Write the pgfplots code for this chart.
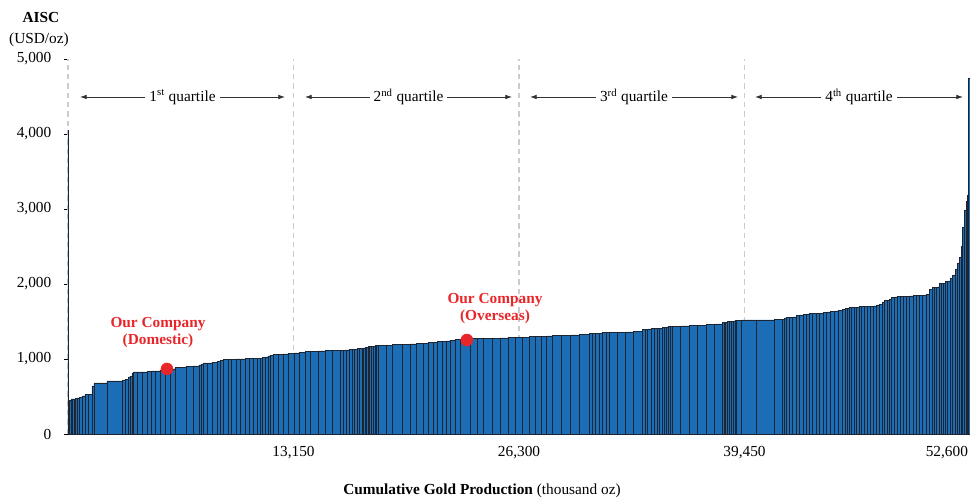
\documentclass[border=0pt]{standalone}
\usepackage{pgfplots}
\pgfplotsset{compat=1.18}
\usepackage{pgfplotstable}
\usepackage{fontspec}
\setmainfont{Liberation Serif}
\usetikzlibrary{arrows.meta}

\definecolor{barblue}{HTML}{1B6DB6}
\definecolor{baredge}{HTML}{1E2530}
\definecolor{dotred}{HTML}{E8262A}
\definecolor{qgray}{HTML}{CCCCCC}
\definecolor{arrgray}{HTML}{333333}

% cost curve: left edge of each mine (cumulative koz) and its AISC
\pgfplotstableread{
x y
0 4050
35 420
87 450
175 467
262 467
350 467
437 470
525 480
670 493
816 507
991 527
1166 533
1399 640
1516 680
2274 707
3149 720
3324 733
3499 760
3615 773
3732 813
3790 827
4023 827
4315 827
4606 833
4839 840
5073 840
5364 853
5656 860
5948 867
6239 893
6880 900
7288 907
7638 920
7755 933
7871 947
8104 947
8396 950
8687 967
8862 980
9037 993
9328 995
9503 997
9795 1000
10028 1000
10320 1003
10553 1005
10786 1007
11020 1010
11195 1013
11311 1020
11486 1027
11661 1040
11778 1053
11953 1060
12244 1065
12536 1067
12827 1075
13177 1080
13468 1085
13818 1100
14109 1105
14576 1107
14984 1110
15392 1115
15859 1118
16034 1119
16208 1120
16383 1125
16558 1130
16704 1132
16850 1135
16995 1140
17141 1145
17229 1147
17316 1150
17404 1158
17491 1165
17579 1168
17666 1170
17783 1172
17899 1175
17987 1177
18074 1180
18541 1185
18890 1188
19473 1195
19940 1200
20290 1203
20698 1210
20989 1215
21281 1225
21514 1228
21805 1237
22039 1240
22272 1250
22563 1255
22855 1265
23438 1268
23846 1270
24195 1275
24720 1278
25186 1280
25653 1283
26061 1290
26469 1293
26935 1295
27284 1297
27634 1305
27926 1307
28276 1315
28800 1318
29325 1320
29850 1323
30433 1340
30608 1342
30782 1345
30986 1346
31190 1348
31395 1352
31599 1355
32065 1358
32531 1360
32998 1363
33523 1395
33669 1398
33814 1400
34018 1405
34222 1410
34368 1412
34514 1413
34660 1420
34805 1425
34922 1427
35038 1428
35155 1432
35272 1437
35738 1440
36263 1450
36729 1453
37254 1463
37720 1467
38187 1485
38275 1490
38362 1493
38479 1498
38595 1503
38712 1505
38828 1507
38916 1511
39003 1515
39295 1520
40170 1520
41219 1522
41686 1533
41803 1540
41919 1555
42094 1557
42269 1560
42473 1575
42678 1587
42882 1593
43086 1600
43261 1605
43436 1610
43640 1612
43845 1613
44049 1620
44253 1627
44486 1633
44719 1640
44952 1650
45186 1665
45331 1672
45477 1680
45594 1685
45710 1690
45856 1692
46002 1693
46148 1697
46294 1700
46468 1703
46643 1705
46818 1706
46993 1707
47168 1720
47343 1733
47488 1760
47634 1780
47809 1787
47926 1800
48043 1820
48218 1827
48393 1835
48568 1836
48743 1838
48918 1839
49092 1840
49296 1845
49500 1850
49675 1852
49850 1853
50055 1855
50259 1933
50434 1955
50550 1958
50667 1960
50842 2005
50958 2010
51075 2013
51191 2030
51308 2040
51454 2080
51600 2120
51745 2200
51891 2280
52008 2360
52095 2500
52183 2760
52299 2987
52378 3100
52457 3187
52516 4747
52600 4747
}\costdata

\begin{document}
\begin{tikzpicture}[x=1pt,y=1pt]
\path[use as bounding box] (-51,-48) rectangle (676.5,325.5);
\begin{axis}[
    at={(0,0)}, anchor=south west,
    scale only axis, width=676.5pt, height=281.25pt,
    xmin=0, xmax=52600, ymin=0, ymax=5000,
    axis x line*=bottom, axis y line*=left,
    y axis line style={draw=none},
    x axis line style={line width=0.8pt, black, -},
    xtick={13150,26300,39450},
    extra x ticks={52600},
    extra x tick style={xticklabel style={anchor=north east, xshift=2pt}},
    ytick={0,1000,...,5000},
    xtick style={draw=none},
    ytick style={draw=black, line width=0.5pt},
    tick align=outside, major tick length=3pt,
    scaled ticks=false,
    /pgf/number format/1000 sep={,},
    /pgf/number format/assume math mode=true,
    tick label style={font=\fontsize{11.5}{13}\selectfont},
    xticklabel style={yshift=-3pt},
    yticklabel style={xshift=-6pt},
    clip=false,
]
\foreach \q in {0,13150,26300,39450}{
  \edef\tmp{\noexpand\draw[qgray, line width=0.8pt, dash pattern=on 4pt off 3pt]
    (axis cs:\q,0) -- (axis cs:\q,5000);}\tmp
}
\addplot[ybar interval, fill=barblue, draw=baredge, line width=0.6pt] table {\costdata};
\addplot[only marks, mark=*, mark size=4.5pt, color=dotred] coordinates {(5770,867) (23260,1253)};
\end{axis}

% quartile arrows
\begin{scope}[arrgray, line width=0.6pt, >={Latex[length=5pt,width=3.5pt]},
  every node/.style={fill=white, text=black, inner sep=3pt, font=\fontsize{11.5}{13}\selectfont}]
\draw[<->] (9,252.75) -- node{1\textsuperscript{st} quartile} (162.75,252.75);
\draw[<->] (177.75,252.75) -- node{2\textsuperscript{nd} quartile} (333,252.75);
\draw[<->] (346.5,252.75) -- node{3\textsuperscript{rd} quartile} (502.5,252.75);
\draw[<->] (515.25,252.75) -- node{4\textsuperscript{th} quartile} (671.25,252.75);
\end{scope}

\node[font=\bfseries\fontsize{11.5}{13}\selectfont, text=dotred, align=center] at (67.5,76) {Our Company\\(Domestic)};
\node[font=\bfseries\fontsize{11.5}{13}\selectfont, text=dotred, align=center] at (320.25,94) {Our Company\\(Overseas)};

\node[font=\bfseries\fontsize{11.5}{13}\selectfont] at (-20.25,312) {AISC};
\node[font=\fontsize{11.5}{13}\selectfont] at (-21.75,296) {(USD/oz)};
\node[font=\fontsize{11.5}{13}\selectfont] at (310.5,-42.75) {\textbf{Cumulative Gold Production} (thousand oz)};
\end{tikzpicture}
\end{document}
